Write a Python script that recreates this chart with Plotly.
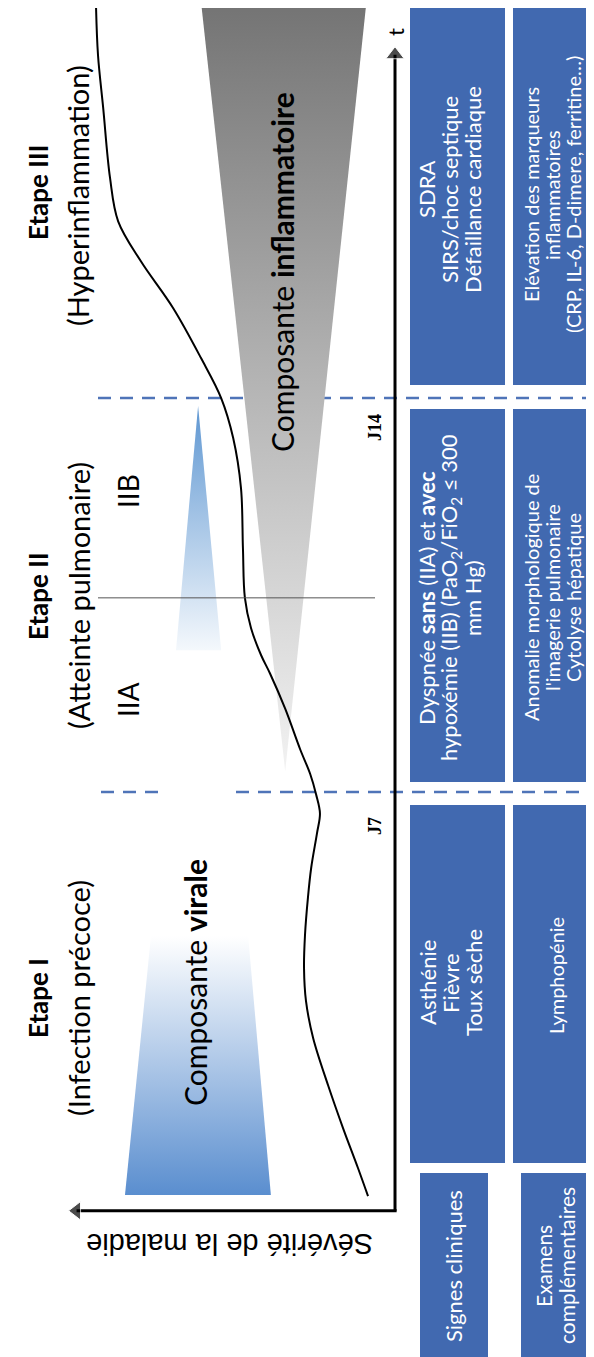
import plotly.graph_objects as go

W, H = 594, 1357

# courbe de sévérité : temps (jours) / sévérité (unités arbitraires)
curve_day = [-0.18, 0.32, 1.03, 1.79, 2.63, 3.29, 3.87, 4.46, 5.12, 5.65, 6.27, 6.62,
             6.96, 7.32, 7.76, 8.48, 9.11, 9.43, 9.91, 10.45, 11.33, 12.40, 13.29,
             14.00, 14.71, 15.60, 16.43, 17.14, 17.91, 19.15, 20.09, 20.93]
curve_sev = [0.83, 1.14, 1.60, 2.06, 2.52, 2.74, 2.80, 2.77, 2.68, 2.58, 2.40, 2.31,
             2.43, 2.61, 2.92, 3.38, 3.85, 4.12, 4.43, 4.62, 4.68, 4.74, 4.98,
             5.35, 5.97, 6.83, 7.82, 8.52, 8.77, 8.98, 9.14, 9.20]

# composante virale (trapèze), composante inflammatoire et IIB (triangles)
viral_day = [-0.16, -0.16, 4.44, 4.44, -0.16]
viral_sev = [8.31, 3.82, 4.52, 7.51, 8.31]
infl_day = [7.37, 21.2, 21.2, 7.37]
infl_sev = [3.38, 6.0, 0.85, 3.38]
iib_day = [13.86, 9.52, 9.52, 13.86]
iib_sev = [6.06, 6.74, 5.35, 6.06]

stage_days = [7, 14]
stage_ticks = ["J7", "J14"]
iia_iib_day = 10.45
axis_origin_day = -0.44

stage_text = {
    "III": [["SDRA", "SIRS/choc septique", "Défaillance cardiaque"],
            ["Elévation des marqueurs", "inflammatoires", "(CRP, IL-6, D-dimere, ferritine…)"]],
    "II": [["Dyspnée <b>sans</b> (IIA) et <b>avec</b>",
            "hypoxémie (IIB) (PaO<sub>2</sub>/FiO<sub>2</sub> ≤ 300", "mm Hg)"],
           ["Anomalie morphologique de", "l'imagerie pulmonaire", "Cytolyse hépatique"]],
    "I": [["Asthénie", "Fièvre", "Toux sèche"], ["Lymphopénie"]],
}
row_labels = [["Signes cliniques"], ["Examens", "complémentaires"]]

BLUE = "#4169b0"
DASH = "#4f74b8"
FONT = "Lato"

fig = go.Figure()

fig.add_trace(go.Scatter(
    x=viral_sev, y=viral_day, mode="lines", fill="toself", line=dict(width=0),
    fillgradient=dict(type="vertical", colorscale=[[0, "#5a8ecf"], [1, "#ffffff"]]),
    hoverinfo="skip", showlegend=False))
fig.add_trace(go.Scatter(
    x=infl_sev, y=infl_day, mode="lines", fill="toself", line=dict(width=0),
    fillgradient=dict(type="vertical", colorscale=[[0, "#f2f2f2"], [0.5, "#b4b4b4"], [1, "#727272"]]),
    hoverinfo="skip", showlegend=False))
fig.add_trace(go.Scatter(
    x=iib_sev, y=iib_day, mode="lines", fill="toself", line=dict(width=0),
    fillgradient=dict(type="vertical", colorscale=[[0, "#f4f8fc"], [1, "#5f97d2"]]),
    hoverinfo="skip", showlegend=False))
fig.add_trace(go.Scatter(
    x=curve_sev, y=curve_day, mode="lines", line=dict(color="black", width=2, shape="spline"),
    hoverinfo="skip", showlegend=False))

# axes fléchés (temps vers le haut, sévérité vers la gauche)
fig.add_trace(go.Scatter(
    x=[0, 0], y=[axis_origin_day, 20.1], mode="lines+markers",
    line=dict(color="black", width=3),
    marker=dict(symbol=["circle", "triangle-up"], size=[0, 16], color="black"),
    hoverinfo="skip", showlegend=False))
fig.add_trace(go.Scatter(
    x=[-0.05, 9.8], y=[axis_origin_day, axis_origin_day], mode="lines+markers",
    line=dict(color="black", width=3),
    marker=dict(symbol=["circle", "triangle-left"], size=[0, 16], color="black"),
    hoverinfo="skip", showlegend=False))


def px(v):
    return v / W


def py(v):
    return 1 - v / H


shapes = []
# lignes pointillées J7 / J14
for d, segs in zip(stage_days, [[(93, 153), (228, 594)], [(90, 594)]]):
    for a, b in segs:
        shapes.append(dict(type="line", xref="paper", yref="y", x0=px(a), x1=px(b), y0=d, y1=d,
                           line=dict(color=DASH, width=2.5, dash="13px,9px"), layer="below"))
# séparation IIA / IIB
shapes.append(dict(type="line", xref="paper", yref="y", x0=px(90), x1=px(367),
                   y0=iia_iib_day, y1=iia_iib_day, line=dict(color="#555555", width=1)))

# boîtes
cols = [(402, 497), (505, 593)]
rows = {"III": (0, 377), "II": (401, 774), "I": (797, 1155)}
for key, (ya, yb) in rows.items():
    for (xa, xb) in cols:
        shapes.append(dict(type="rect", xref="paper", yref="paper", x0=px(xa), x1=px(xb),
                           y0=py(yb), y1=py(ya), fillcolor=BLUE, line=dict(width=0), layer="below"))
for (xa, xb) in [(412, 480), (513, 582)]:
    shapes.append(dict(type="rect", xref="paper", yref="paper", x0=px(xa), x1=px(xb),
                       y0=py(1352), y1=py(1165), fillcolor=BLUE, line=dict(width=0), layer="below"))

ann = []


def txt(x, y, s, size, color="black", angle=-90, family=FONT):
    ann.append(dict(x=px(x), y=py(y), xref="paper", yref="paper", text=s, showarrow=False,
                    textangle=angle, font=dict(size=size, color=color, family=family),
                    xanchor="center", yanchor="middle"))


txt(30, 185, "<b>Etape III</b>", 26)
txt(70, 188, "(Hyperinflammation)", 29)
txt(30, 588, "<b>Etape II</b>", 26)
txt(70, 588, "(Atteinte pulmonaire)", 29)
txt(30, 990, "<b>Etape I</b>", 26)
txt(70, 990, "(Infection précoce)", 29)
txt(120, 483, "IIB", 28)
txt(120, 692, "IIA", 28)
txt(274, 264, "Composante <b>inflammatoire</b>", 30)
txt(187, 975, "Composante <b>virale</b>", 30)
txt(387, 24, "t", 22)
txt(222, 1236, "Sévérité de la maladie", 29, angle=180, family="Liberation Sans")

for d, lab, yy in zip(stage_days, stage_ticks, [818, 420]):
    txt(367, yy, "<b>" + lab + "</b>", 18, family="Liberation Serif")

# texte des boîtes
line_x = {"III": [[419, 442, 465], [523, 544, 565]],
          "II": [[419, 442, 465], [523, 544, 565]],
          "I": [[419, 442, 465], [548]]}
center_y = {"III": [182, 187], "II": [590, 590], "I": [975, 968]}
sizes = [22, 20]
for key in ["III", "II", "I"]:
    for c in range(2):
        for s, x in zip(stage_text[key][c], line_x[key][c]):
            txt(x, center_y[key][c], s, sizes[c], color="white")
txt(445, 1258, row_labels[0][0], 22, color="white")
txt(535, 1258, row_labels[1][0], 21, color="white")
txt(558, 1258, row_labels[1][1], 21, color="white")

fig.update_layout(
    width=W, height=H,
    margin=dict(l=0, r=0, t=0, b=0),
    paper_bgcolor="white", plot_bgcolor="white",
    xaxis=dict(range=[11.91, -6.37], visible=False, fixedrange=True),
    yaxis=dict(range=[-3.18, 20.93], visible=False, fixedrange=True),
    shapes=shapes, annotations=ann,
    showlegend=False,
)

fig.write_html("out.html")
